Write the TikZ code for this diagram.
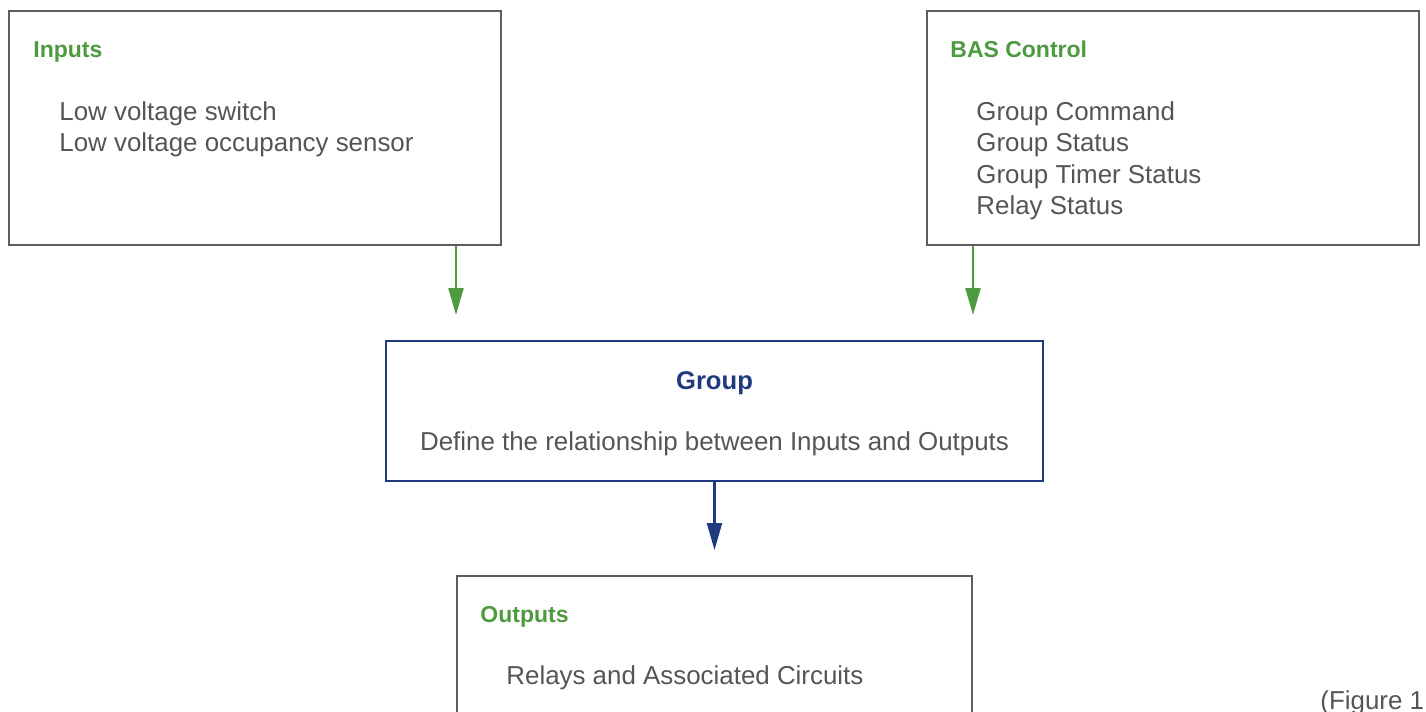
\documentclass[tikz,border=0pt]{standalone}
\usepackage{fontspec}
\setmainfont{Liberation Sans}
\usepackage{tikz}
\usetikzlibrary{arrows.meta}

\definecolor{boxgray}{HTML}{5E5E5E}
\definecolor{textgray}{HTML}{555555}
\definecolor{titlegreen}{HTML}{4D9A40}
\definecolor{groupblue}{HTML}{203A80}

\tikzset{
	box/.style={draw=boxgray, line width=1pt, anchor=north west, inner sep=0pt},
	title/.style={anchor=base west, inner sep=0pt, text=titlegreen, font=\fontsize{11.5pt}{13pt}\selectfont\bfseries},
	item/.style={anchor=base west, inner sep=0pt, text=textgray, font=\fontsize{12.95pt}{15pt}\selectfont},
	greenarrow/.style={draw=titlegreen, line width=1.1pt, -{Triangle[width=7.5pt,length=13.5pt]}},
	bluearrow/.style={draw=groupblue, line width=1.1pt, -{Triangle[width=7.5pt,length=13.5pt]}}
}

\begin{document}
\begin{tikzpicture}[x=0.5pt,y=-0.5pt]
		\clip (0,0) rectangle (1426,712);
		% boxes
		\node[box, minimum width=246pt, minimum height=117pt] (inputs) at (8,10) {};
		\node[box, minimum width=246pt, minimum height=117pt] (bas) at (926,10) {};
		\node[box, draw=groupblue, minimum width=328.5pt, minimum height=70pt] (group) at (385,340) {};
		\node[box, minimum width=257.5pt, minimum height=100pt] (outputs) at (456,575) {};
		
		% Inputs
		\node[title] (inTitle) at (33,57) {Inputs};
		\node[item] (inSwitch) at (59,120) {Low voltage switch};
		\node[item] (inSensor) at (59,151) {Low voltage occupancy sensor};
		
		% BAS Control
		\node[title] (basTitle) at (950,57) {BAS Control};
		\node[item] (basCommand) at (976,120) {Group Command};
		\node[item] (basStatus) at (976,151) {Group Status};
		\node[item] (basTimer) at (976,183) {Group Timer Status};
		\node[item] (basRelay) at (976,214) {Relay Status};
		
		% Group
		\node[item, anchor=base, text=groupblue, font=\fontsize{12.8pt}{15pt}\selectfont\bfseries] (groupTitle) at (714.5,389) {Group};
		\node[item, anchor=base] (groupText) at (714.5,450) {Define the relationship between Inputs and Outputs};
		
		% Outputs
		\node[title] (outTitle) at (480,622) {Outputs};
		\node[item] (outRelays) at (506,684) {Relays and Associated Circuits};
		
		\node[item] (figure) at (1320,709) {(Figure 1};
		
		% arrows
		\coordinate (inEnd) at (456,315);
		\coordinate (basEnd) at (973,315);
		\coordinate (groupEnd) at (714.5,550);
		\draw[greenarrow] (inputs.south -| inEnd) -- (inEnd);
		\draw[greenarrow] (bas.south -| basEnd) -- (basEnd);
		\draw[bluearrow] (group.south) -- (group.south |- groupEnd);
	\end{tikzpicture}
\end{document}
